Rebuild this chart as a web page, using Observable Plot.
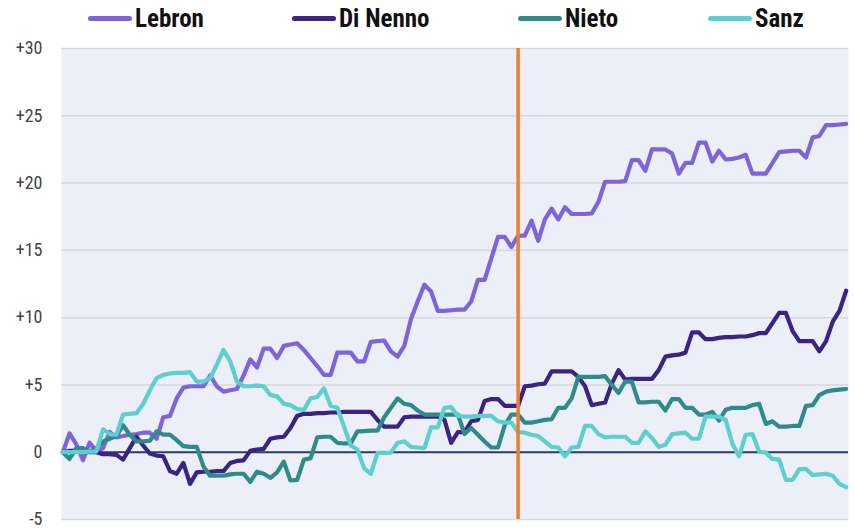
<!DOCTYPE html>
<html>
<head>
<meta charset="utf-8">
<script src="https://cdn.jsdelivr.net/npm/d3@7"></script>
<script src="https://cdn.jsdelivr.net/npm/@observablehq/plot@0.6"></script>
<style>
  body { margin: 0; background: #fff; width: 855px; height: 528px; overflow: hidden; }
  #legend { position: relative; height: 30px; width: 855px; z-index: 2; font-family: "Liberation Sans Narrow", "Roboto Condensed", "DejaVu Sans Condensed", sans-serif; font-weight: bold; font-size: 25px; color: #111; }
  .item { position: absolute; top: 0; height: 36px; display: flex; align-items: center; }
  .sw { width: 44px; height: 5px; border-radius: 3px; margin-right: 3px; }
  #chart svg { display: block; background: transparent; }
</style>
</head>
<body>
<div id="legend"></div>
<div id="chart"></div>
<script>
const names = ["Lebron", "Di Nenno", "Nieto", "Sanz"];
const colors = ["#7f63db", "#3a2382", "#2e8b89", "#5dcfcf"];
const legendLeft = [88, 292, 518, 708];

const lebron = [0,1.4,0.6,-0.6,0.7,0.1,0.3,1.5,1.1,1.2,1.3,1.35,1.45,1.45,1.0,2.6,2.7,4.0,4.8,4.9,4.9,4.9,5.7,4.9,4.5,4.6,4.7,5.7,6.9,6.3,7.7,7.7,7.0,7.9,8.0,8.1,7.6,7.0,6.4,5.75,5.75,7.4,7.4,7.4,6.75,6.75,8.2,8.25,8.3,7.5,7.1,7.9,9.9,11.2,12.45,11.95,10.5,10.5,10.55,10.6,10.6,11.2,12.8,12.8,14.4,16.0,16.0,15.25,16.1,16.1,17.2,15.7,17.3,18.1,17.3,18.2,17.7,17.7,17.7,17.75,18.6,20.1,20.1,20.1,20.15,21.7,21.7,20.9,22.5,22.5,22.5,22.2,20.7,21.5,21.5,23.0,23.0,21.6,22.4,21.75,21.8,21.9,22.1,20.7,20.7,20.7,21.5,22.3,22.35,22.4,22.4,21.9,23.4,23.5,24.3,24.3,24.35,24.4];
const diNenno = [0,0.1,0.1,0.05,0,0,-0.15,-0.15,-0.2,-0.55,0.3,1.15,0.5,-0.1,-0.25,-0.3,-1.4,-1.6,-0.8,-2.35,-1.5,-1.45,-1.45,-1.4,-1.4,-0.8,-0.65,-0.6,0.1,0.2,0.25,1.0,1.1,1.15,1.8,2.7,2.85,2.85,2.9,2.9,2.95,2.95,3.0,3.0,3.0,3.0,3.0,2.4,1.9,1.9,1.9,2.6,2.65,2.65,2.65,2.65,2.65,2.4,0.7,1.5,1.5,2.3,2.4,3.8,3.95,3.95,3.45,3.45,3.45,4.9,4.95,5.05,5.1,6.0,6.0,6.0,6.0,5.6,4.9,3.5,3.6,3.7,5.1,6.1,5.4,5.45,5.45,5.45,5.45,6.1,7.1,7.2,7.25,7.4,8.9,8.9,8.4,8.4,8.5,8.55,8.55,8.6,8.6,8.7,8.85,8.85,9.6,10.35,10.35,9.0,8.25,8.25,8.25,7.5,8.25,9.7,10.5,12.0];
const nieto = [0,-0.5,0.3,0.3,0.05,0.3,0.8,1.0,1.2,2.0,1.3,0.8,0.8,0.85,1.55,1.3,1.3,0.9,0.45,0.4,0.4,-1.05,-1.75,-1.75,-1.75,-1.65,-1.6,-1.6,-2.2,-1.45,-1.6,-1.9,-1.5,-0.7,-2.1,-2.05,-0.55,-0.45,1.1,1.15,1.15,0.7,0.65,0.65,1.55,1.57,1.6,1.6,2.6,3.3,4.0,3.6,3.5,3.1,2.8,2.8,2.8,2.8,2.8,2.8,1.35,1.8,1.3,0.8,0.35,0.35,2.0,2.8,2.8,2.2,2.2,2.3,2.4,2.45,3.3,3.3,4.0,5.6,5.6,5.6,5.6,5.65,5.0,4.4,5.25,5.25,3.7,3.7,3.75,3.75,3.1,3.95,3.95,3.3,3.3,2.8,2.8,3.0,2.35,3.15,3.3,3.3,3.3,3.5,3.6,2.1,2.3,1.9,1.9,1.95,1.95,3.45,3.5,4.25,4.5,4.6,4.65,4.7];
const sanz = [0,0,0,0,0.05,0.05,1.7,1.35,1.3,2.8,2.85,2.9,3.6,4.6,5.5,5.75,5.85,5.9,5.9,5.95,5.25,5.25,5.5,6.5,7.6,6.75,5.25,4.9,4.9,4.95,4.9,4.25,4.15,3.6,3.5,3.2,3.15,4.0,4.1,4.75,3.45,3.3,1.9,0.5,0.2,-1.2,-1.6,-0.05,-0.05,-0.03,0.7,0.8,0.4,0.35,0.3,1.85,1.85,3.3,3.35,2.7,2.65,2.65,2.7,2.7,2.7,2.3,2.2,2.2,1.5,1.45,1.3,1.2,0.8,0.4,0.35,-0.3,0.35,0.4,1.95,1.95,1.35,1.1,1.15,1.15,1.15,0.7,0.7,1.55,1.05,0.4,0.55,1.35,1.4,1.45,1.0,1.0,2.65,2.65,2.65,2.4,0.65,-0.3,1.3,1.35,0.05,-0.03,-0.5,-0.55,-2.05,-2.05,-1.25,-1.25,-1.7,-1.65,-1.6,-1.75,-2.35,-2.6];
const yTicks = [-5, 0, 5, 10, 15, 20, 25, 30];
const markerIndex = 68;

const seriesValues = [lebron, diNenno, nieto, sanz];
const rows = seriesValues.flatMap((vals, s) => vals.map((v, i) => ({i, v, name: names[s]})));

// legend
const legend = document.getElementById("legend");
names.forEach((n, k) => {
  const it = document.createElement("div");
  it.className = "item";
  it.style.left = legendLeft[k] + "px";
  it.innerHTML = `<span class="sw" style="background:${colors[k]}"></span><span>${n}</span>`;
  legend.appendChild(it);
});

const chart = Plot.plot({
  width: 855,
  height: 498,
  marginTop: 18,
  marginBottom: 9,
  marginLeft: 61,
  marginRight: 7,
  x: {domain: [-0.2, 117.35], axis: null},
  y: {domain: [-5, 30], axis: null},
  color: {domain: names, range: colors},
  style: {fontFamily: "'Liberation Sans Narrow', 'Roboto Condensed', 'DejaVu Sans Condensed', sans-serif", background: "transparent"},
  marks: [
    Plot.frame({fill: "#eceef8", stroke: null}),
    Plot.ruleY(yTicks, {stroke: "#d8d8dc", strokeWidth: 1.5}),
    Plot.axisY(yTicks, {tickSize: 0, tickPadding: 19, fontSize: 18, fill: "#444", label: null,
      tickFormat: d => d > 0 ? "+" + d : String(d)}),
    Plot.ruleY([0], {stroke: "#2c3b69", strokeWidth: 2}),
    Plot.line(rows, {x: "i", y: "v", z: "name", stroke: "name", strokeWidth: 4.2,
      strokeLinejoin: "round", strokeLinecap: "round"}),
    Plot.ruleX([markerIndex], {stroke: "#f07d2b", strokeWidth: 3.5})
  ]
});
document.getElementById("chart").appendChild(chart);
</script>
</body>
</html>
